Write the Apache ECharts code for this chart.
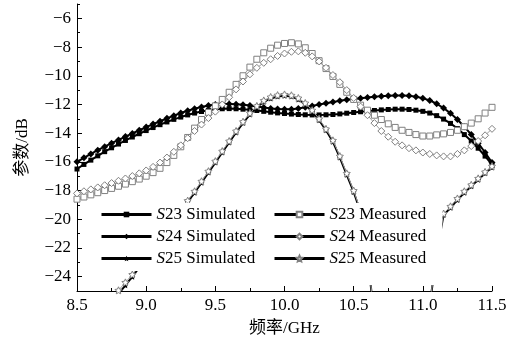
<!DOCTYPE html>
<html><head><meta charset="utf-8">
<script src="https://cdn.jsdelivr.net/npm/echarts@6/dist/echarts.min.js"></script>
<style>html,body{margin:0;padding:0;background:#fff}#c{width:524px;height:342px}</style>
</head><body><div id="c"></div>
<script>
var freq = [8.50,8.55,8.60,8.65,8.70,8.75,8.80,8.85,8.90,8.95,9.00,9.05,9.10,9.15,9.20,9.25,9.30,9.35,9.40,9.45,9.50,9.55,9.60,9.65,9.70,9.75,9.80,9.85,9.90,9.95,10.00,10.05,10.10,10.15,10.20,10.25,10.30,10.35,10.40,10.45,10.50,10.55,10.60,10.65,10.70,10.75,10.80,10.85,10.90,10.95,11.00,11.05,11.10,11.15,11.20,11.25,11.30,11.35,11.40,11.45,11.50];

var s23Sim = [-16.50,-16.18,-15.88,-15.58,-15.29,-15.02,-14.76,-14.51,-14.27,-14.04,-13.82,-13.61,-13.41,-13.22,-13.04,-12.88,-12.73,-12.60,-12.49,-12.40,-12.34,-12.30,-12.29,-12.30,-12.33,-12.37,-12.42,-12.48,-12.54,-12.59,-12.63,-12.67,-12.70,-12.72,-12.73,-12.73,-12.72,-12.70,-12.66,-12.61,-12.56,-12.51,-12.46,-12.42,-12.38,-12.35,-12.33,-12.33,-12.35,-12.40,-12.48,-12.60,-12.78,-13.02,-13.32,-13.68,-14.10,-14.55,-15.05,-15.60,-16.20];

var s24Sim = [-16.00,-15.72,-15.45,-15.19,-14.94,-14.70,-14.47,-14.24,-14.02,-13.80,-13.58,-13.37,-13.17,-12.97,-12.78,-12.60,-12.44,-12.30,-12.18,-12.08,-12.01,-11.97,-11.96,-11.98,-12.02,-12.08,-12.15,-12.22,-12.28,-12.32,-12.34,-12.33,-12.28,-12.20,-12.10,-12.00,-11.91,-11.83,-11.75,-11.68,-11.62,-11.56,-11.51,-11.46,-11.42,-11.39,-11.37,-11.37,-11.40,-11.46,-11.56,-11.72,-11.95,-12.25,-12.62,-13.05,-13.55,-14.10,-14.70,-15.35,-16.05];

var s25Sim = [-29.80,-29.00,-28.20,-27.40,-26.60,-25.90,-25.20,-24.60,-24.00,-23.35,-22.70,-22.05,-21.40,-20.75,-20.10,-19.45,-18.80,-18.15,-17.45,-16.75,-16.05,-15.35,-14.65,-13.95,-13.30,-12.70,-12.20,-11.82,-11.58,-11.45,-11.40,-11.45,-11.65,-12.00,-12.50,-13.10,-13.80,-14.60,-15.70,-16.90,-18.10,-19.50,-22.50,-27.00,-28.50,-29.00,-29.20,-29.30,-29.30,-29.20,-28.80,-26.00,-22.40,-19.70,-19.20,-18.65,-18.15,-17.70,-17.25,-16.80,-16.40];

var s23Meas = [-18.60,-18.45,-18.30,-18.15,-18.00,-17.85,-17.70,-17.55,-17.38,-17.20,-17.00,-16.75,-16.45,-16.05,-15.55,-14.95,-14.30,-13.65,-13.05,-12.55,-12.10,-11.65,-11.15,-10.60,-10.00,-9.40,-8.85,-8.40,-8.08,-7.87,-7.75,-7.70,-7.78,-8.05,-8.45,-8.95,-9.50,-10.05,-10.60,-11.15,-11.65,-12.05,-12.40,-12.75,-13.05,-13.35,-13.60,-13.80,-13.95,-14.10,-14.20,-14.20,-14.12,-14.05,-13.95,-13.80,-13.55,-13.30,-13.00,-12.60,-12.20];

var s24Meas = [-18.20,-18.05,-17.92,-17.78,-17.63,-17.48,-17.32,-17.16,-16.99,-16.80,-16.60,-16.35,-16.05,-15.70,-15.30,-14.85,-14.35,-13.85,-13.40,-12.95,-12.50,-12.00,-11.50,-10.95,-10.40,-9.90,-9.45,-9.10,-8.85,-8.62,-8.45,-8.33,-8.30,-8.40,-8.65,-9.00,-9.45,-9.95,-10.45,-11.00,-11.55,-12.15,-12.75,-13.30,-13.85,-14.25,-14.60,-14.85,-15.05,-15.20,-15.35,-15.45,-15.55,-15.62,-15.62,-15.45,-15.20,-14.90,-14.55,-14.15,-13.70];

var s25Meas = [-29.50,-28.70,-27.90,-27.10,-26.30,-25.60,-24.95,-24.40,-23.85,-23.25,-22.60,-21.95,-21.30,-20.65,-20.00,-19.35,-18.70,-18.05,-17.35,-16.65,-15.95,-15.25,-14.55,-13.85,-13.20,-12.60,-12.10,-11.72,-11.48,-11.35,-11.30,-11.36,-11.55,-11.90,-12.40,-13.00,-13.70,-14.50,-15.60,-16.80,-18.00,-19.40,-22.40,-26.90,-28.40,-28.90,-29.10,-29.20,-29.20,-29.10,-28.70,-25.90,-22.30,-19.60,-19.10,-18.55,-18.05,-17.60,-17.15,-16.70,-16.30];

var xTicks = [8.5, 9.0, 9.5, 10.0, 10.5, 11.0, 11.5];
var yTicks = [-24, -22, -20, -18, -16, -14, -12, -10, -8, -6];
var seriesNames = ['S23 Simulated','S24 Simulated','S25 Simulated','S23 Measured','S24 Measured','S25 Measured'];

var STAR = 'path://M0,-10L2.9,-4L9.5,-3.1L4.7,1.6L5.9,8.1L0,5.1L-5.9,8.1L-4.7,1.6L-9.5,-3.1L-2.9,-4Z';
var FONT = '"Liberation Serif","Times New Roman",serif';
var CJK = '"Liberation Serif","Noto Sans CJK SC",serif';

function pairs(arr){ return freq.map(function(f,i){ return [f, arr[i]]; }); }

function simSeries(name, arr, sym, size){
  return {name:name, type:'line', data:pairs(arr), symbol:sym, symbolSize:size, showSymbol:true,
    lineStyle:{color:'#000', width:2}, itemStyle:{color:'#000'}, z:2, clip:true};
}
function measSeries(name, arr, sym, size){
  return {name:name, type:'line', data:pairs(arr), symbol:sym, symbolSize:size, showSymbol:true,
    lineStyle:{color:'#a0a0a0', width:1}, itemStyle:{color:'#fff', borderColor:'#808080', borderWidth:1}, z:3, clip:true};
}

function legendFmt(name){ return '{i|S}{n|' + name.slice(1) + '}'; }
var legendText = {fontFamily:FONT, fontSize:17, color:'#000',
  rich:{i:{fontFamily:FONT, fontStyle:'italic', fontSize:17, color:'#000'}, n:{fontFamily:FONT, fontSize:17, color:'#000'}}};

var chart = echarts.init(document.getElementById('c'), null, {renderer:'canvas'});
chart.setOption({
  animation:false,
  backgroundColor:'#fff',
  grid:{left:77, right:32, top:4, bottom:51, containLabel:false},
  xAxis:{type:'value', min:8.5, max:11.5, interval:0.5,
    name:'频率/GHz', nameLocation:'middle', nameGap:29,
    nameTextStyle:{fontFamily:CJK, fontSize:17, color:'#000'},
    axisLine:{show:true, lineStyle:{color:'#000', width:1}},
    axisTick:{show:true, inside:true, length:5, lineStyle:{color:'#000'}},
    minorTick:{show:true, splitNumber:2, length:3, lineStyle:{color:'#000'}},
    axisLabel:{fontFamily:FONT, fontSize:17, color:'#000', margin:6,
      formatter:function(v){ return v.toFixed(1); }},
    splitLine:{show:false}},
  yAxis:[{type:'value', min:-25, max:-5, interval:1,
    name:'参数/dB', nameLocation:'middle', nameGap:46,
    nameTextStyle:{fontFamily:CJK, fontSize:17, color:'#000'},
    axisLine:{show:true, lineStyle:{color:'#000', width:1}},
    axisTick:{show:true, inside:true, length:5, customValues:yTicks, lineStyle:{color:'#000'}},
    axisLabel:{fontFamily:FONT, fontSize:17, color:'#000', margin:6, customValues:yTicks,
      formatter:function(v){ return String(v).replace('-', '\u2212'); }},
    splitLine:{show:false}},
   {type:'value', min:-25, max:-5, interval:1, position:'left',
    axisLine:{show:false}, axisTick:{show:true, inside:true, length:3, lineStyle:{color:'#000'}},
    axisLabel:{show:false}, splitLine:{show:false}}],
  legend:[
    {data:seriesNames.slice(0,3), orient:'vertical', left:97, top:203, itemGap:5,
     itemWidth:50, itemHeight:7, padding:[3,6,4,3], backgroundColor:'#fff',
     lineStyle:{color:'#000', width:3}, formatter:legendFmt, textStyle:legendText},
    {data:seriesNames.slice(3), orient:'vertical', left:270, top:203, itemGap:5,
     itemWidth:50, itemHeight:7, padding:[3,16,18,3], backgroundColor:'#fff',
     lineStyle:{color:'#000', width:3}, formatter:legendFmt, textStyle:legendText}
  ],
  series:[
    simSeries(seriesNames[0], s23Sim, 'rect', 5),
    simSeries(seriesNames[1], s24Sim, 'diamond', 7),
    simSeries(seriesNames[2], s25Sim, STAR, 6),
    measSeries(seriesNames[3], s23Meas, 'rect', 6),
    measSeries(seriesNames[4], s24Meas, 'diamond', 7),
    measSeries(seriesNames[5], s25Meas, STAR, 7)
  ]
});
</script></body></html>
